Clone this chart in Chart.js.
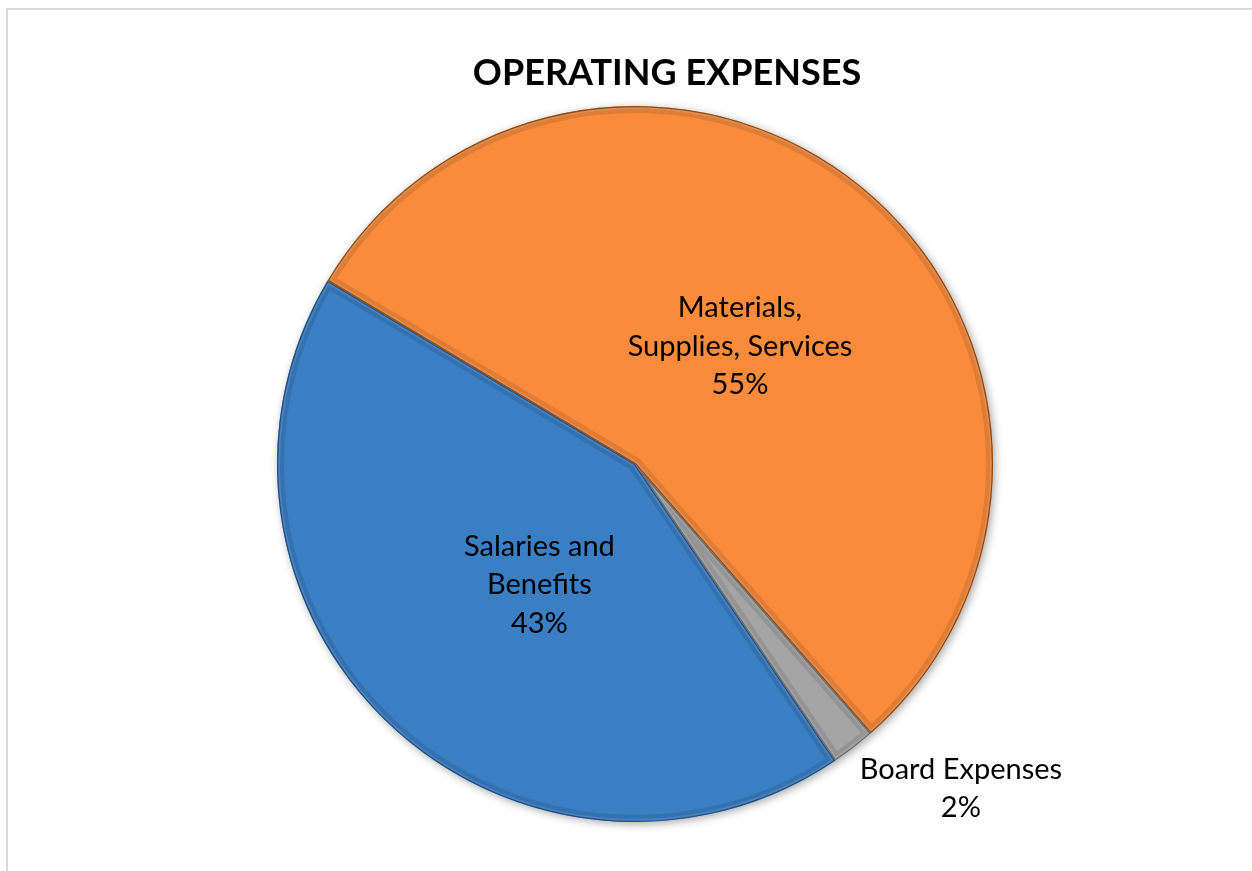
<!DOCTYPE html>
<html><head><meta charset="utf-8">
<script src="https://cdn.jsdelivr.net/npm/chart.js@4.4.0/dist/chart.umd.min.js"></script>
<style>html,body{margin:0;padding:0;background:#fff;overflow:hidden}#wrap{position:relative;width:1252px;height:871px}</style>
</head><body><div id="wrap"><canvas id="c" width="1252" height="871"></canvas></div>
<script>
const chartTitle = 'OPERATING EXPENSES';
const categories = ['Salaries and Benefits', 'Materials, Supplies, Services', 'Board Expenses'];
const labelLines = [['Salaries and', 'Benefits'], ['Materials,', 'Supplies, Services'], ['Board Expenses']];
const shares = [43, 55, 2];
const percentLabels = ['43%', '55%', '2%'];
const sliceColors = ['#3A7EC4', '#F98B3B', '#A5A5A5'];
const edgeColors = ['#1F4E86', '#8A4A16', '#6B6B6B'];

// label placement style: fraction of radius and angular shift (degrees) from slice mid-angle
const labelPlacement = [{f: 0.43, shift: -5}, {f: 0.44, shift: 2}, {f: 1.285, shift: -7.5}];

const framePlugin = {
  id: 'frame',
  beforeDraw(chart) {
    const ctx = chart.ctx;
    ctx.save();
    ctx.fillStyle = '#fff';
    ctx.fillRect(0, 0, chart.width, chart.height);
    ctx.fillStyle = '#d9d9d9';
    ctx.fillRect(6, 8, chart.width - 6, 2);
    ctx.fillRect(6, 8, 2, chart.height - 8);
    ctx.fillStyle = '#000';
    ctx.font = 'bold 36px Lato, "DejaVu Sans", sans-serif';
    ctx.textAlign = 'center';
    ctx.textBaseline = 'middle';
    ctx.fillText(chartTitle, 667, 73);
    ctx.restore();
  },
  beforeDatasetsDraw(chart) {
    const meta = chart.getDatasetMeta(0);
    const a = meta.data[0];
    if (!a) return;
    const ctx = chart.ctx;
    ctx.save();
    ctx.shadowColor = 'rgba(0,0,0,0.35)';
    ctx.shadowBlur = 8;
    ctx.shadowOffsetX = 2;
    ctx.shadowOffsetY = 2;
    ctx.fillStyle = '#fff';
    ctx.beginPath();
    ctx.arc(a.x, a.y, a.outerRadius, 0, Math.PI * 2);
    ctx.fill();
    ctx.restore();
  },
  afterDatasetsDraw(chart) {
    const meta = chart.getDatasetMeta(0);
    const ctx = chart.ctx;
    meta.data.forEach((arc, i) => {
      const {x, y, startAngle, endAngle, outerRadius} = arc.getProps(['x', 'y', 'startAngle', 'endAngle', 'outerRadius'], true);
      ctx.save();
      ctx.beginPath();
      ctx.moveTo(x, y);
      ctx.arc(x, y, outerRadius, startAngle, endAngle);
      ctx.closePath();
      ctx.clip();
      ctx.lineJoin = 'round';
      ctx.strokeStyle = 'rgba(0,0,0,0.10)';
      ctx.lineWidth = 14;
      ctx.stroke();
      ctx.strokeStyle = 'rgba(255,255,255,0.12)';
      ctx.lineWidth = 6;
      ctx.stroke();
      ctx.strokeStyle = edgeColors[i];
      ctx.lineWidth = 2.5;
      ctx.stroke();
      ctx.restore();
    });
    // labels
    ctx.save();
    ctx.fillStyle = '#000';
    ctx.font = '29px Lato, "DejaVu Sans", sans-serif';
    ctx.textAlign = 'center';
    ctx.textBaseline = 'middle';
    const lh = 38.5;
    meta.data.forEach((arc, i) => {
      const {x, y, startAngle, endAngle, outerRadius} = arc.getProps(['x', 'y', 'startAngle', 'endAngle', 'outerRadius'], true);
      const p = labelPlacement[i];
      const mid = (startAngle + endAngle) / 2 + p.shift * Math.PI / 180;
      const r = outerRadius * p.f;
      const cx = x + Math.cos(mid) * r;
      const cy = y + Math.sin(mid) * r;
      const lines = labelLines[i].concat([percentLabels[i]]);
      const top = cy - (lines.length - 1) * lh / 2;
      lines.forEach((t, k) => ctx.fillText(t, cx, top + k * lh));
    });
    ctx.restore();
  }
};

new Chart(document.getElementById('c'), {
  type: 'pie',
  data: {
    labels: categories,
    datasets: [{
      data: shares,
      backgroundColor: sliceColors,
      borderColor: edgeColors,
      borderWidth: 0
    }]
  },
  options: {
    responsive: false,
    animation: false,
    rotation: 146,
    layout: {padding: {left: 277, right: 259, top: 106, bottom: 49}},
    plugins: {legend: {display: false}, tooltip: {enabled: false}, title: {display: false}}
  },
  plugins: [framePlugin]
});
</script>
</body></html>
